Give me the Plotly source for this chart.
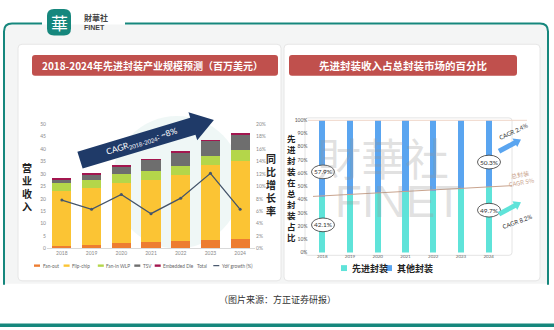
import math
import plotly.graph_objects as go

W, H = 554, 330
def px(x): return x / W
def py(y): return 1 - y / H

# ---------------- data ----------------
years = ['2018', '2019', '2020', '2021', '2022', '2023', '2024']
fan_out = [0.8, 1.3, 2.2, 2.5, 2.9, 3.3, 3.7]
flip_chip = [22.5, 23.0, 24.1, 25.1, 26.7, 30.3, 31.6]
fan_in_wlp = [3.0, 3.3, 3.6, 3.6, 3.7, 3.5, 4.2]
tsv = [1.4, 2.2, 3.1, 4.4, 5.3, 6.1, 6.4]
embedded_die = [0.2, 0.2, 0.2, 0.2, 0.2, 0.2, 0.2]
yoy_growth = [7.8, 6.3, 8.7, 5.6, 8.1, 12.1, 6.3]
left_ticks = [0, 5, 10, 15, 20, 25, 30, 35, 40, 45, 50]
right_ticks = [0, 2, 4, 6, 8, 10, 12, 14, 16, 18, 20]

adv_share = [42.1, 43.5, 44.6, 45.6, 46.8, 48.2, 49.7]
other_share = [round(100 - v, 1) for v in adv_share]
share_ticks = [0, 10, 20, 30, 40, 50, 60, 70, 80, 90, 100]

left_series = ['Fan-out', 'Flip-chip', 'Fan-in WLP', 'TSV', 'Embedded Die']
left_colors = ['#ED7D31', '#FBC434', '#B4D64A', '#6E6E6E', '#A3164F']
line_color = '#44546A'
adv_color = '#5FE3D9'
oth_color = '#5AA5F0'
teal = '#16877D'
red = '#C0504D'
cjk = 'Noto Sans CJK SC'

fig = go.Figure()

# ---------------- left chart ----------------
for name, vals, col in zip(left_series, [fan_out, flip_chip, fan_in_wlp, tsv, embedded_die], left_colors):
    fig.add_trace(go.Bar(x=years, y=vals, name=name, marker_color=col, marker_line_width=0,
                         xaxis='x', yaxis='y', showlegend=False))
fig.add_trace(go.Scatter(x=years, y=yoy_growth, mode='lines+markers', name='YoY growth (%)',
                         line=dict(color=line_color, width=1.3), marker=dict(size=3, color=line_color),
                         xaxis='x', yaxis='y2', showlegend=False))

# ---------------- right chart ----------------
fig.add_trace(go.Bar(x=years, y=adv_share, name='先进封装', marker_color=adv_color, marker_line_width=0,
                     xaxis='x3', yaxis='y3', showlegend=False, width=0.22))
fig.add_trace(go.Bar(x=years, y=other_share, name='其他封装', marker_color=oth_color, marker_line_width=0,
                     xaxis='x3', yaxis='y3', showlegend=False, width=0.22))

tickfont = dict(size=5, color='#8a8a8a', family='Lato')
fig.update_layout(
    width=W, height=H, margin=dict(l=0, r=0, t=0, b=0),
    paper_bgcolor='white', plot_bgcolor='rgba(0,0,0,0)',
    barmode='stack', bargap=0.36,
    xaxis=dict(domain=[px(47), px(255)], type='category', tickfont=tickfont, showgrid=False,
               showline=True, linecolor='#d9d9d9', linewidth=1, ticks='', anchor='y'),
    yaxis=dict(domain=[py(250), py(123.5)], range=[0, 50], tickvals=left_ticks, tickfont=tickfont,
               showgrid=False, zeroline=False, ticks='', anchor='x'),
    yaxis2=dict(domain=[py(250), py(123.5)], range=[0, 20], overlaying='y', side='right', anchor='x',
                tickvals=right_ticks, ticktext=[f'{v}%' for v in right_ticks], tickfont=tickfont,
                showgrid=False, zeroline=False, ticks=''),
    xaxis3=dict(domain=[px(308.4), px(502.6)], type='category', tickfont=dict(size=4.5, color='#666', family='Lato'),
                showgrid=False, showline=False, ticks='', anchor='y3'),
    yaxis3=dict(domain=[py(254.2), py(119.2)], range=[0, 100], tickvals=share_ticks,
                ticktext=[f'{v}%' for v in share_ticks], tickfont=dict(size=5, color='#555', family='Lato'),
                showgrid=False, zeroline=False, ticks='', anchor='x3'),
)

shapes = []
annotations = []

def ann(x, y, text, size, color, family, xanchor='center', yanchor='middle', **kw):
    d = dict(x=px(x), y=py(y), xref='paper', yref='paper', showarrow=False, text=text,
             xanchor=xanchor, yanchor=yanchor, font=dict(size=size, color=color, family=family))
    d.update(kw)
    annotations.append(d)

def rrect(x0, y0, x1, y1, r, **kw):
    rx, ry = r / W, r / H
    X0, X1 = px(x0), px(x1)
    Y0, Y1 = py(y0), py(y1)
    path = (f'M {X0+rx} {Y0} L {X1-rx} {Y0} Q {X1} {Y0} {X1} {Y0-ry} L {X1} {Y1+ry} Q {X1} {Y1} {X1-rx} {Y1} '
            f'L {X0+rx} {Y1} Q {X0} {Y1} {X0} {Y1+ry} L {X0} {Y0-ry} Q {X0} {Y0} {X0+rx} {Y0} Z')
    d = dict(type='path', xref='paper', yref='paper', path=path)
    d.update(kw)
    return d

# background panel
shapes.append(dict(type='rect', xref='paper', yref='paper', x0=px(5), x1=px(547), y0=py(286), y1=py(22),
                   fillcolor='#f4f5f5', line_width=0, layer='below'))
# cards
shapes.append(rrect(18, 42, 281, 283, 4, fillcolor='white', line=dict(color='#e6e6e6', width=1), layer='below'))
shapes.append(rrect(284, 42, 540, 283, 4, fillcolor='white', line=dict(color='#e6e6e6', width=1), layer='below'))
# right plot frame
shapes.append(rrect(305, 117, 512, 257, 3, fillcolor='rgba(0,0,0,0)', line=dict(color='#e4e4e4', width=1), layer='below'))
# left watermark (faint teal disc behind bars)
shapes.append(dict(type='circle', xref='paper', yref='paper', x0=px(112), x1=px(242), y0=py(250), y1=py(115),
                   fillcolor='rgba(22,135,125,0.07)', line_width=0, layer='below'))

# outer teal frame with gap for logo
r = 8
fx0, fy0, fx1, fy1 = 4, 21, 548, 287
fpath = (f'M {px(42)} {py(fy0)} L {px(fx0+r)} {py(fy0)} Q {px(fx0)} {py(fy0)} {px(fx0)} {py(fy0+r)} '
         f'L {px(fx0)} {py(fy1)}')
shapes.append(dict(type='path', xref='paper', yref='paper', path=fpath, line=dict(color=teal, width=2)))
fpath2 = (f'M {px(125)} {py(fy0)} L {px(fx1-r)} {py(fy0)} Q {px(fx1)} {py(fy0)} {px(fx1)} {py(fy0+r)} '
          f'L {px(fx1)} {py(fy1)}')
shapes.append(dict(type='path', xref='paper', yref='paper', path=fpath2, line=dict(color=teal, width=2)))
# bottom line
shapes.append(dict(type='rect', xref='paper', yref='paper', x0=0, x1=1, y0=py(330), y1=py(326.5),
                   fillcolor=teal, line_width=0))

# logo
shapes.append(rrect(47, 6, 71, 33, 7, fillcolor=teal, line_width=0))
ann(59, 19.5, '華', 17, 'white', cjk)
ann(82, 15, '<b>財華社</b>', 8, '#444', cjk, xanchor='left')
ann(82, 24.5, '<b>FINET</b>', 7, '#444', 'Liberation Sans', xanchor='left')

# title boxes
shapes.append(rrect(32, 53, 278, 74, 3, fillcolor=red, line_width=0))
shapes.append(rrect(289, 53, 517, 74, 3, fillcolor=red, line_width=0))
ann(152, 63.5, '<b>2018-2024年先进封装产业规模预测（百万美元）</b>', 10, 'white', cjk)
ann(403, 63.5, '<b>先进封装收入占总封装市场的百分比</b>', 10.5, 'white', cjk)

# watermarks (right)
ann(383, 157, '財華社', 44, 'rgba(150,150,150,0.28)', cjk)
ann(398, 202, 'FINET', 44, 'rgba(150,150,150,0.28)', 'Liberation Sans')

# axis titles
ann(27, 187, '<b>营<br>业<br>收<br>入</b>', 10, '#222', cjk)
ann(271, 185, '<b>同<br>比<br>增<br>长<br>率</b>', 10, '#222', cjk)
ann(291, 188, '<b>先<br>进<br>封<br>装<br>在<br>总<br>封<br>装<br>占<br>比</b>', 8.5, '#222', cjk)

# CAGR arrow (left)
ang = math.radians(17)
dx, dy = math.cos(ang), -math.sin(ang)
nx, ny = math.sin(ang), math.cos(ang)
tx, ty = 80, 160
L1, L2, hw, hh = 118, 22, 9, 15
bx, by = tx + L1 * dx, ty + L1 * dy
tipx, tipy = bx + L2 * dx, by + L2 * dy
pts = [(tx + nx * hw, ty + ny * hw), (bx + nx * hw, by + ny * hw), (bx + nx * hh, by + ny * hh),
       (tipx, tipy), (bx - nx * hh, by - ny * hh), (bx - nx * hw, by - ny * hw), (tx - nx * hw, ty - ny * hw)]
path = 'M ' + ' L '.join(f'{px(a)} {py(b)}' for a, b in pts) + ' Z'
shapes.append(dict(type='path', xref='paper', yref='paper', path=path, fillcolor='#1F3A68', line_width=0))
ann(142, 141, 'CAGR<sub>2018-2024</sub>: ~8%', 8.5, 'white', 'Lato', textangle=-17)

# left legend (manual, laid out sequentially)
leg_y = 267.5
items = [('Fan-out', left_colors[0], 'bar'), ('Flip-chip', left_colors[1], 'bar'),
         ('Fan-in WLP', left_colors[2], 'bar'), ('TSV', left_colors[3], 'bar'),
         ('Embedded Die', left_colors[4], 'bar'), ('Total', None, 'none'),
         ('YoY growth (%)', line_color, 'line')]
cw = 2.3
cur = 34
for name, col, kind in items:
    if kind == 'bar':
        shapes.append(dict(type='rect', xref='paper', yref='paper', x0=px(cur), x1=px(cur + 6),
                           y0=py(leg_y + 1.2), y1=py(leg_y - 1.2), fillcolor=col, line_width=0))
        cur += 7.5
    elif kind == 'line':
        shapes.append(dict(type='line', xref='paper', yref='paper', x0=px(cur), x1=px(cur + 6),
                           y0=py(leg_y), y1=py(leg_y), line=dict(color=col, width=1.2)))
        cur += 7.5
    ann(cur, leg_y, name, 4.7, '#666', 'Lato', xanchor='left', borderpad=0)
    cur += len(name) * cw + 6

# right legend (manual)
for name, col, x in [('先进封装', adv_color, 341), ('其他封装', oth_color, 386)]:
    shapes.append(dict(type='rect', xref='paper', yref='paper', x0=px(x), x1=px(x + 6),
                       y0=py(273), y1=py(267), fillcolor=col, line_width=0))
    ann(x + 9, 270, f'<b>{name}</b>', 9, '#222', cjk, xanchor='left')

# right chart: 100% gridline and total trend line
shapes.append(dict(type='line', xref='paper', yref='paper', x0=px(308), x1=px(527), y0=py(119.5), y1=py(119.5),
                   line=dict(color='#f0d6c8', width=1)))
shapes.append(dict(type='line', xref='paper', yref='paper', x0=px(313), x1=px(512), y0=py(197), y1=py(186),
                   line=dict(color='#c9a48e', width=1)))

def ellipse_label(cx, cy, txt):
    shapes.append(dict(type='circle', xref='paper', yref='paper', x0=px(cx - 11.5), x1=px(cx + 11.5),
                       y0=py(cy + 7), y1=py(cy - 7), fillcolor='white', line=dict(color='#333', width=0.8)))
    ann(cx, cy, txt, 6.5, '#333', 'Lato')
ellipse_label(323, 172, f'{other_share[0]}%')
ellipse_label(323, 226, f'{adv_share[0]}%')
ellipse_label(489, 162, f'{other_share[-1]}%')
ellipse_label(489, 211, f'{adv_share[-1]}%')

def small_arrow(x0, y0, x1, y1, col):
    L = math.hypot(x1 - x0, y1 - y0)
    ux, uy = (x1 - x0) / L, (y1 - y0) / L
    nx2, ny2 = -uy, ux
    hw2, hh2, hl = 2.5, 5, 7
    bx2, by2 = x1 - ux * hl, y1 - uy * hl
    p = [(x0 + nx2 * hw2, y0 + ny2 * hw2), (bx2 + nx2 * hw2, by2 + ny2 * hw2), (bx2 + nx2 * hh2, by2 + ny2 * hh2),
         (x1, y1), (bx2 - nx2 * hh2, by2 - ny2 * hh2), (bx2 - nx2 * hw2, by2 - ny2 * hw2),
         (x0 - nx2 * hw2, y0 - ny2 * hw2)]
    shapes.append(dict(type='path', xref='paper', yref='paper', fillcolor=col, line_width=0,
                       path='M ' + ' L '.join(f'{px(a)} {py(b)}' for a, b in p) + ' Z'))
small_arrow(499, 151, 521, 139, oth_color)
small_arrow(499, 215, 521, 203, adv_color)
ann(513, 131, 'CAGR 2.4%', 6, '#333', 'Lato', textangle=-25)
ann(517, 223, 'CAGR 8.2%', 6, '#333', 'Lato', textangle=-20)
ann(521, 179, '总封装<br>CAGR 5%', 6, '#c9a48e', cjk, textangle=-10)

# source
ann(277, 302, '（图片来源：方正证券研报）', 9, '#333', cjk)

fig.update_layout(shapes=shapes, annotations=annotations)
fig.write_html('out.html')
